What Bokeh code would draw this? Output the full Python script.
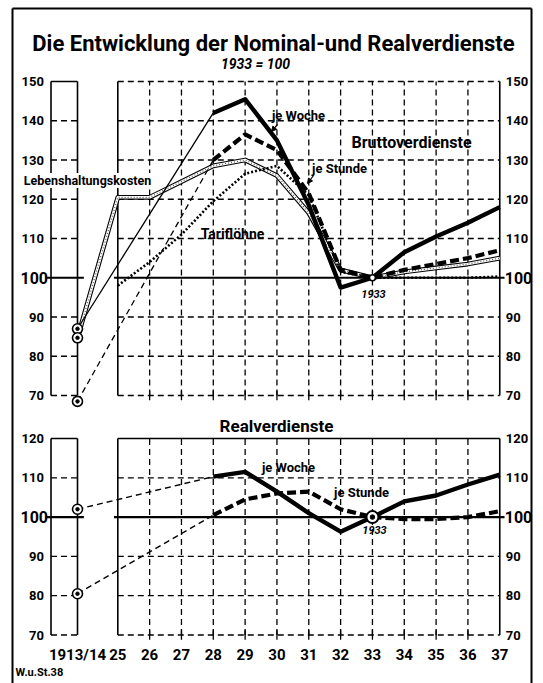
from bokeh.plotting import figure
from bokeh.models import Range1d, LinearAxis, FixedTicker, Arrow, NormalHead
from bokeh.core.properties import value
from bokeh.embed import file_html
from bokeh.resources import INLINE

# ---------------- data ----------------
year_labels = ["1913/14", "25", "26", "27", "28", "29", "30", "31", "32", "33", "34", "35", "36", "37"]
years = [1913, 1925, 1926, 1927, 1928, 1929, 1930, 1931, 1932, 1933, 1934, 1935, 1936, 1937]

# Bruttoverdienste (nominal), 1933 = 100
brutto_woche = [87.0, None, None, None, 142.0, 145.5, 135.0, 118.5, 97.5, 100.0, 106.5, 110.5, 114.0, 118.0]
brutto_stunde = [68.5, None, None, None, 130.0, 136.5, 132.5, 121.5, 102.0, 100.0, 102.0, 103.5, 105.0, 107.0]
lebenshaltung = [84.7, 120.5, 120.5, 124.5, 128.5, 130.0, 126.0, 116.5, 102.0, 100.0, 101.5, 102.5, 103.5, 105.0]
tarifloehne = [None, 98.0, 104.0, 111.0, 119.5, 126.5, 128.5, 121.0, 101.5, 100.0, 100.0, 100.0, 100.0, 100.3]

# Realverdienste
real_woche = [102.0, None, None, None, 110.3, 111.5, 106.5, 101.0, 96.3, 100.0, 104.0, 105.5, 108.3, 110.8]
real_stunde = [80.5, None, None, None, 100.5, 104.5, 106.0, 106.5, 102.0, 100.0, 99.5, 99.5, 100.0, 101.5]

top_ticks = [70, 80, 90, 100, 110, 120, 130, 140, 150]
real_ticks = [70, 80, 90, 100, 110, 120]

# ---------------- layout (figure pixels) ----------------
W, H = 543, 683
PX_YEAR = 31.83
X25 = 117.3      # column 1925
X_BASE = 77.0    # column 1913/14
X_BOX = 50.5     # left edge of the small 1913/14 box
TOP150, TOP70 = 81.0, 395.0
R120, R70 = 438.0, 634.5


def dx(px):
    return 1925 + (px - X25) / PX_YEAR


ty = (TOP70 - TOP150) / 80.0
ry = (R70 - R120) / 50.0


def dy(py):
    return 150 - (py - TOP150) / ty


def dyr(py):
    return 120 - (py - R120) / ry


base_x = dx(X_BASE)
box_x = dx(X_BOX)


def xpos(y):
    return base_x if y == 1913 else y


FONT = "Roboto"

p = figure(width=W, height=H, x_range=Range1d(dx(0), dx(W)),
           y_range=Range1d(dy(H), dy(0)),
           output_backend="svg", toolbar_location=None,
           x_axis_type=None, y_axis_type=None, min_border=0)
p.extra_y_ranges = {"real": Range1d(dyr(H), dyr(0))}
p.title.visible = False
p.outline_line_color = None
p.background_fill_color = "white"
p.border_fill_color = "white"

# ---------------- outer border ----------------
p.line([dx(12), dx(12)], [dy(8), dy(H + 20)], line_color="black", line_width=2)
p.line([dx(12), dx(531)], [dy(8), dy(8)], line_color="black", line_width=2)
p.line([dx(531), dx(531)], [dy(8), dy(H + 20)], line_color="black", line_width=2)


# ---------------- panel frames / grids ----------------
def panel(rng, ticks, top_dashed):
    kw = {} if rng is None else {"y_range_name": rng}
    lo, hi = ticks[0], ticks[-1]
    step = ticks[1] - ticks[0]
    hx, hy = [], []
    for t in ticks:
        if t == 100:
            continue
        if t != hi or top_dashed:
            hx.append([years[1], years[-1]]); hy.append([t, t])
        if t != hi:
            hx.append([box_x, base_x]); hy.append([t, t])
    p.multi_line(hx, hy, line_color="black", line_width=1.3, line_dash="6 4", **kw)
    vx = [[y, y] for y in years if years[1] < y < years[-1]]
    p.multi_line(vx, [[lo, hi]] * len(vx), line_color="black", line_width=1.3, line_dash="6 4", **kw)
    # small tick marks across the bottom edge
    tx = [[y, y] for y in years if years[1] < y < years[-1]]
    p.multi_line(tx, [[lo - step * 0.12, lo + step * 0.12]] * len(tx), line_color="black", line_width=1.3, **kw)
    # solid edges
    ex = [[years[1], years[1]], [years[-1], years[-1]], [box_x, box_x], [base_x, base_x], [box_x, base_x]]
    ey = [[lo, hi], [lo, hi], [lo, hi], [lo, hi], [hi, hi]]
    if not top_dashed:
        ex.append([years[1], years[-1]]); ey.append([hi, hi])
    p.multi_line(ex, ey, line_color="black", line_width=1.6, **kw)
    # the 100 line
    p.multi_line([[box_x - 0.15, base_x + 0.2], [years[1] - 0.12, years[-1] + 0.15]],
                 [[100, 100], [100, 100]], line_color="black", line_width=2.2, **kw)


panel(None, top_ticks, True)
panel("real", real_ticks, False)


def pts(vals):
    xs = [xpos(y) for y, v in zip(years, vals) if v is not None]
    ys = [v for v in vals if v is not None]
    return xs, ys


def split(vals):
    xs, ys = pts(vals)
    return (xs[:2], ys[:2]), (xs[1:], ys[1:])


# ---------------- top panel series ----------------
lx, ly = pts(lebenshaltung)
p.line(lx, ly, line_color="black", line_width=4.8, line_join="round")
p.line(lx, ly, line_color="white", line_width=2.6, line_join="round")
p.line(lx, ly, line_color="#555555", line_width=1.2, line_dash="1 2")

tx, tyv = pts(tarifloehne)
p.line(tx, tyv, line_color="black", line_width=2.6, line_dash="2 2")

(thin_x, thin_y), (thick_x, thick_y) = split(brutto_stunde)
p.line(thin_x, thin_y, line_color="black", line_width=1.3, line_dash="6 4")
p.line(thick_x, thick_y, line_color="black", line_width=4.2, line_dash="9 4")

(thin_x, thin_y), (thick_x, thick_y) = split(brutto_woche)
p.line(thin_x, thin_y, line_color="black", line_width=1.3)
p.line(thick_x, thick_y, line_color="black", line_width=4.4, line_join="round")

# ---------------- bottom panel series ----------------
(thin_x, thin_y), (thick_x, thick_y) = split(real_stunde)
p.line(thin_x, thin_y, line_color="black", line_width=1.4, line_dash="6 4", y_range_name="real")
p.line(thick_x, thick_y, line_color="black", line_width=4.2, line_dash="9 4", y_range_name="real")

(thin_x, thin_y), (thick_x, thick_y) = split(real_woche)
p.line(thin_x, thin_y, line_color="black", line_width=1.4, line_dash="6 4", y_range_name="real")
p.line(thick_x, thick_y, line_color="black", line_width=4.4, line_join="round", y_range_name="real")

# ---------------- 1913/14 and 1933 markers ----------------
top_base = [brutto_woche[0], lebenshaltung[0], brutto_stunde[0]]
p.scatter([base_x] * 3, top_base, size=10, marker="circle", fill_color="white", line_color="black", line_width=1.6)
p.scatter([base_x] * 3, top_base, size=3.5, marker="circle", fill_color="black", line_color="black")
real_base = [real_woche[0], real_stunde[0]]
p.scatter([base_x] * 2, real_base, size=10, marker="circle", fill_color="white", line_color="black", line_width=1.6,
          y_range_name="real")
p.scatter([base_x] * 2, real_base, size=3.5, marker="circle", fill_color="black", line_color="black",
          y_range_name="real")
i33 = years.index(1933)
p.scatter([1933], [real_woche[i33]], size=12, marker="circle", fill_color="white", line_color="black", line_width=2,
          y_range_name="real")
p.scatter([1933], [real_woche[i33]], size=4.5, marker="circle", fill_color="black", line_color="black",
          y_range_name="real")
p.scatter([1933], [brutto_woche[i33]], size=6, marker="circle", fill_color="white", line_color="black", line_width=1.6)


# ---------------- axes ----------------
def yaxis(ticks, side, loc, rng=None, size="13px", standoff=6):
    kw = {} if rng is None else {"y_range_name": rng}
    ax = LinearAxis(fixed_location=loc, ticker=FixedTicker(ticks=ticks, minor_ticks=[]),
                    axis_line_color=None, major_tick_line_color=None, minor_tick_line_color=None,
                    major_tick_in=0, major_tick_out=0, major_label_standoff=standoff,
                    major_label_text_font=FONT, major_label_text_font_style="bold",
                    major_label_text_font_size=size, major_label_text_color="black", **kw)
    p.add_layout(ax, side)


top_small = [t for t in top_ticks if t != 100]
real_small = [t for t in real_ticks if t != 100]
yaxis(top_small, "left", box_x, standoff=7)
yaxis([100], "left", box_x, size="16px", standoff=3)
yaxis(top_small, "right", years[-1], standoff=6)
yaxis([100], "right", years[-1], size="16px", standoff=5)
yaxis(real_small, "left", box_x, rng="real", standoff=7)
yaxis([100], "left", box_x, rng="real", size="16px", standoff=3)
yaxis(real_small, "right", years[-1], rng="real", standoff=6)
yaxis([100], "right", years[-1], rng="real", size="16px", standoff=5)

xticks = [xpos(y) for y in years]
xa = LinearAxis(fixed_location=real_ticks[0], y_range_name="real",
                ticker=FixedTicker(ticks=xticks, minor_ticks=[]),
                major_label_overrides={xp: lab for xp, lab in zip(xticks, year_labels)},
                axis_line_color=None, major_tick_line_color=None, minor_tick_line_color=None,
                major_tick_in=0, major_tick_out=0, major_label_standoff=11,
                major_label_text_font=FONT, major_label_text_font_style="bold",
                major_label_text_font_size="15px", major_label_text_color="black")
p.add_layout(xa, "below")


# ---------------- texts ----------------
def label(px, py, txt, size, style="bold", align="center", rng=None, bg=None):
    extra = {}
    if bg is not None:
        extra = {"background_fill_color": bg}
    if rng is not None:
        extra["y_range_name"] = rng
    yy = dy(py) if rng is None else dyr(py)
    p.text([dx(px)], [yy], text=[txt], text_font=value(FONT), text_font_style=style,
           text_font_size=size, text_align=align, text_baseline="middle", text_color="black", **extra)


label(273, 43, "Die Entwicklung der Nominal-und Realverdienste", "22px")
label(255, 63, "1933 = 100", "14px", style="bold italic")
label(411, 142, "Bruttoverdienste", "16px")
label(298, 115, "je Woche", "13px")
label(339, 168, "je Stunde", "13px")
label(87, 180, "Lebenshaltungskosten", "12.5px", bg="white")
label(232, 233, "Tariflöhne", "14px")
label(373, 293, "1933", "11px", style="bold italic")
label(276, 425, "Realverdienste", "17px", rng="real")
label(288, 467, "je Woche", "13px", rng="real")
label(361, 492, "je Stunde", "13px", rng="real")
label(374, 529, "1933", "11px", style="bold italic", rng="real")
label(15, 672, "W.u.St.38", "11px", align="left")

p.add_layout(Arrow(end=NormalHead(size=5, fill_color="black", line_color="black"),
                   x_start=dx(277), y_start=dy(124), x_end=dx(271), y_end=dy(131), line_width=1.2))
p.add_layout(Arrow(end=NormalHead(size=5, fill_color="black", line_color="black"),
                   x_start=dx(313), y_start=dy(175), x_end=dx(307), y_end=dy(183), line_width=1.2))

open("out.html", "w").write(file_html(p, INLINE))
